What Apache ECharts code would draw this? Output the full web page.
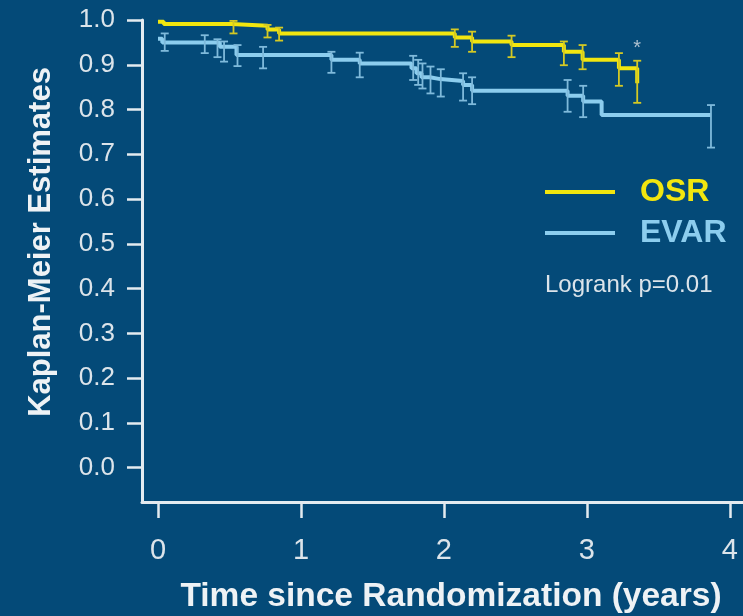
<!DOCTYPE html>
<html><head><meta charset="utf-8">
<script src="https://cdn.jsdelivr.net/npm/echarts@6/dist/echarts.min.js"></script>
<style>html,body{margin:0;padding:0;background:#044a78;}#c{width:743px;height:616px;}</style>
</head><body><div id="c"></div>
<script>
// OSR Kaplan-Meier steps
const osrTime = [0, 0.04, 0.514, 0.766, 0.847, 2.076, 2.197, 2.473, 2.839, 2.970, 3.224, 3.352];
const osrSurv = [0.996, 0.991, 0.987, 0.979, 0.970, 0.961, 0.952, 0.944, 0.929, 0.911, 0.892, 0.859];
// OSR confidence bars
const osrBarTime = [0.528, 0.766, 0.847, 2.076, 2.197, 2.473, 2.839, 2.970, 3.224, 3.352];
const osrBarHi   = [0.998, 0.989, 0.983, 0.979, 0.974, 0.965, 0.952, 0.944, 0.926, 0.909];
const osrBarLo   = [0.970, 0.961, 0.954, 0.940, 0.929, 0.917, 0.899, 0.890, 0.853, 0.815];
// EVAR Kaplan-Meier steps
const evarTime = [0, 0.03, 0.432, 0.549, 1.213, 1.411, 1.773, 1.808, 1.843, 1.902, 1.975, 2.134, 2.197, 2.865, 2.974, 3.103, 3.868];
const evarSurv = [0.958, 0.950, 0.940, 0.922, 0.911, 0.903, 0.892, 0.881, 0.872, 0.868, 0.864, 0.855, 0.842, 0.831, 0.818, 0.788, 0.788];
// EVAR confidence bars
const evarBarTime = [0.047, 0.327, 0.416, 0.462, 0.556, 0.735, 1.213, 1.411, 1.785, 1.820, 1.850, 1.906, 1.978, 2.134, 2.197, 2.865, 2.974, 3.868];
const evarBarHi   = [0.970, 0.966, 0.957, 0.952, 0.944, 0.940, 0.929, 0.927, 0.920, 0.911, 0.903, 0.896, 0.890, 0.881, 0.872, 0.866, 0.853, 0.810];
const evarBarLo   = [0.931, 0.926, 0.917, 0.907, 0.897, 0.892, 0.882, 0.872, 0.866, 0.855, 0.847, 0.836, 0.829, 0.820, 0.812, 0.795, 0.783, 0.715];
// ticks
const yTicks = [0, 0.1, 0.2, 0.3, 0.4, 0.5, 0.6, 0.7, 0.8, 0.9, 1.0];
const xTicks = [0, 1, 2, 3, 4];
const starPoint = [[3.352, 0.936]];

const BG = '#044a78', YEL = '#f2e60f', BLU = '#8ccdee', AX = '#e4ebf0', LBL = '#dce4ea';
const FONT = 'Liberation Sans, Arial, sans-serif';

function zip(a, b) { return a.map((v, i) => [v, b[i]]); }
function bars(t, hi, lo) { return t.map((v, i) => [v, lo[i], hi[i]]); }

function errRender(color) {
  return function (params, api) {
    const x = api.value(0);
    const p1 = api.coord([x, api.value(1)]);
    const p2 = api.coord([x, api.value(2)]);
    const cw = 4;
    const st = { stroke: color, lineWidth: 1.8 };
    return { type: 'group', children: [
      { type: 'line', shape: { x1: p1[0], y1: p1[1], x2: p2[0], y2: p2[1] }, style: st },
      { type: 'line', shape: { x1: p1[0] - cw, y1: p1[1], x2: p1[0] + cw, y2: p1[1] }, style: st },
      { type: 'line', shape: { x1: p2[0] - cw, y1: p2[1], x2: p2[0] + cw, y2: p2[1] }, style: st }
    ]};
  };
}

const chart = echarts.init(document.getElementById('c'));
chart.setOption({
  backgroundColor: BG,
  animation: false,
  textStyle: { fontFamily: FONT },
  grid: { left: 142, top: 20, right: 0, bottom: 114, containLabel: false },
  xAxis: {
    type: 'value', min: -0.112, max: 4.092,
    axisLine: { show: true, onZero: false, lineStyle: { color: AX, width: 3 } },
    axisTick: { show: true, length: 16, customValues: xTicks, lineStyle: { color: AX, width: 2.5 } },
    axisLabel: { customValues: xTicks, color: LBL, fontSize: 29, margin: 34, fontFamily: FONT },
    splitLine: { show: false }
  },
  yAxis: {
    type: 'value', min: -0.0766, max: 1.0,
    axisLine: { show: true, onZero: false, lineStyle: { color: AX, width: 3 } },
    axisTick: { show: true, length: 15, customValues: yTicks, lineStyle: { color: AX, width: 2.5 } },
    axisLabel: { customValues: yTicks, color: LBL, fontSize: 26, margin: 27, fontFamily: FONT,
      formatter: v => v.toFixed(1) },
    splitLine: { show: false }
  },
  legend: {
    orient: 'vertical', left: 540, top: 171, itemWidth: 70, itemHeight: 32, itemGap: 9,
    icon: 'path://M0,0 L70,0 L70,4 L0,4 Z',
    data: [
      { name: 'OSR', itemStyle: { color: YEL }, textStyle: { color: YEL } },
      { name: 'EVAR', itemStyle: { color: BLU }, textStyle: { color: BLU } }
    ],
    textStyle: { fontSize: 32, fontWeight: 'bold', fontFamily: FONT, padding: [0, 0, 0, 20] }
  },
  graphic: [
    { type: 'text', x: 545, y: 285, style: { text: 'Logrank p=0.01', fill: LBL, fontSize: 24, fontFamily: FONT, verticalAlign: 'middle' } },
    { type: 'text', x: 41, y: 242, rotation: Math.PI / 2,
      style: { text: 'Kaplan-Meier Estimates', fill: '#eef2f5', fontSize: 31, fontWeight: 'bold', fontFamily: FONT, align: 'center', verticalAlign: 'middle' } },
    { type: 'text', x: 451, y: 597,
      style: { text: 'Time since Randomization (years)', fill: '#eef2f5', fontSize: 33.5, fontWeight: 'bold', fontFamily: FONT, align: 'center', verticalAlign: 'middle' } }
  ],
  series: [
    { name: 'EVAR', type: 'line', step: 'end', data: zip(evarTime, evarSurv), showSymbol: false, symbol: 'none',
      lineStyle: { color: BLU, width: 4 }, itemStyle: { color: BLU }, z: 3 },
    { name: 'OSR', type: 'line', step: 'end', data: zip(osrTime, osrSurv), showSymbol: false, symbol: 'none',
      lineStyle: { color: YEL, width: 4 }, itemStyle: { color: YEL }, z: 3 },
    { name: 'EVAR bars', type: 'custom', renderItem: errRender('#7fbadb'), data: bars(evarBarTime, evarBarHi, evarBarLo), z: 4 },
    { name: 'OSR bars', type: 'custom', renderItem: errRender('#d4c924'), data: bars(osrBarTime, osrBarHi, osrBarLo), z: 4 },
    { name: 'star', type: 'scatter', data: starPoint, symbolSize: 0,
      label: { show: true, formatter: '*', color: '#d8dfe6', fontSize: 20, position: 'inside' } }
  ]
});
</script></body></html>
